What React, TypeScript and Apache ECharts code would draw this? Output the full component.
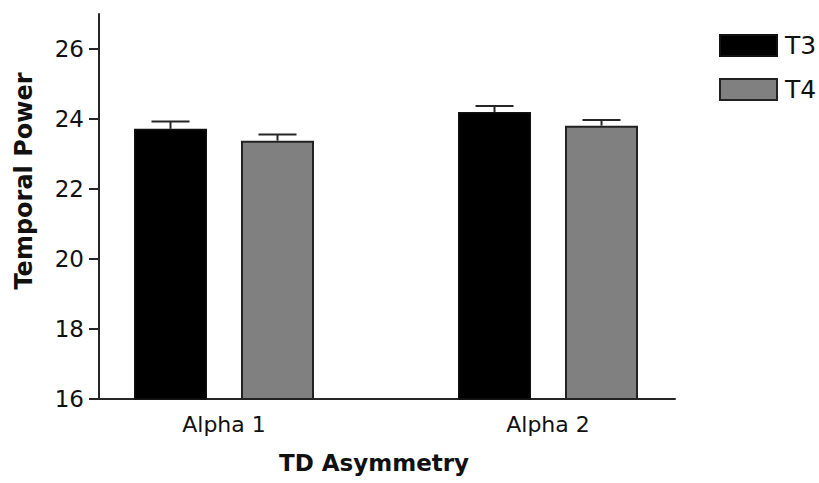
import React, { useEffect, useRef } from "react";
import * as echarts from "echarts";

const categories = ["Alpha 1", "Alpha 2"];
const seriesNames = ["T3", "T4"];
const t3Means = [23.72, 24.2];
const t3Errors = [0.21, 0.17];
const t4Means = [23.38, 23.81];
const t4Errors = [0.18, 0.16];
const yTicks = [16, 18, 20, 22, 24, 26];
const yMin = 16;
const yMax = 27;
const xTitle = "TD Asymmetry";
const yTitle = "Temporal Power";

const FONT = "DejaVu Sans";
const BAR_W = 73;
const BAR_GAP = 34;
const AXIS_COLOR = "#262626";

function errorSeries(name: string, means: number[], errs: number[], offset: number) {
  return {
    type: "custom",
    name: name + " error",
    xAxisIndex: 0,
    yAxisIndex: 0,
    z: 5,
    silent: true,
    data: means.map((m, i) => [i, m, m + errs[i]]),
    encode: { x: 0, y: [1, 2] },
    renderItem: (params: any, api: any) => {
      const idx = api.value(0);
      const lo = api.coord([idx, api.value(1)]);
      const hi = api.coord([idx, api.value(2)]);
      const x = lo[0] + offset;
      const cap = 19;
      const style = { stroke: AXIS_COLOR, lineWidth: 2 };
      return {
        type: "group",
        children: [
          { type: "line", shape: { x1: x, y1: lo[1], x2: x, y2: hi[1] }, style },
          { type: "line", shape: { x1: x - cap, y1: hi[1], x2: x + cap, y2: hi[1] }, style },
        ],
      };
    },
  };
}

export default function App() {
  const ref = useRef<HTMLDivElement>(null);
  useEffect(() => {
    if (!ref.current) return;
    const chart = echarts.init(ref.current, null, { renderer: "svg" });
    const half = (BAR_W + BAR_GAP) / 2;
    chart.setOption({
      animation: false,
      backgroundColor: "#ffffff",
      textStyle: { fontFamily: FONT },
      grid: [
        { left: 62, width: 648, top: 14, height: 385 },
        { left: 99, width: 576, top: 14, height: 385 },
      ],
      legend: {
        orient: "vertical",
        left: 714,
        top: 28,
        itemWidth: 57,
        itemHeight: 21,
        itemGap: 19,
        icon: "rect",
        data: seriesNames,
        textStyle: { fontSize: 25, color: "#111", fontFamily: FONT, padding: [0, 0, 0, 3] },
      },
      xAxis: [
        {
          type: "category",
          gridIndex: 0,
          data: categories,
          axisLine: { show: false },
          axisTick: { show: false },
          axisLabel: { fontSize: 22, color: "#111", margin: 14, fontFamily: FONT },
          splitLine: { show: false },
        },
        {
          type: "value",
          gridIndex: 1,
          min: 0,
          max: 1,
          axisLine: { show: true, onZero: false, lineStyle: { color: AXIS_COLOR, width: 2 } },
          axisTick: { show: false },
          axisLabel: { show: false },
          splitLine: { show: false },
        },
      ],
      yAxis: [
        {
          type: "value",
          gridIndex: 0,
          min: yMin,
          max: yMax,
          show: false,
          splitLine: { show: false },
        },
        {
          type: "value",
          gridIndex: 1,
          min: yMin,
          max: yMax,
          interval: 2,
          axisLine: { show: true, lineStyle: { color: AXIS_COLOR, width: 2 } },
          axisTick: {
            show: true,
            inside: false,
            length: 10,
            customValues: yTicks,
            lineStyle: { color: AXIS_COLOR, width: 2 },
          },
          axisLabel: {
            fontSize: 23,
            color: "#111",
            margin: 15,
            fontFamily: FONT,
            customValues: yTicks,
          },
          splitLine: { show: false },
        },
      ],
      series: [
        {
          type: "bar",
          name: seriesNames[0],
          xAxisIndex: 0,
          yAxisIndex: 0,
          data: t3Means,
          barWidth: BAR_W,
          barGap: (BAR_GAP / BAR_W) * 100 + "%",
          itemStyle: { color: "#000000", borderColor: "#111", borderWidth: 1.5 },
        },
        {
          type: "bar",
          name: seriesNames[1],
          xAxisIndex: 0,
          yAxisIndex: 0,
          data: t4Means,
          barWidth: BAR_W,
          barGap: (BAR_GAP / BAR_W) * 100 + "%",
          itemStyle: { color: "#808080", borderColor: "#222", borderWidth: 2 },
        },
        errorSeries(seriesNames[0], t3Means, t3Errors, -half),
        errorSeries(seriesNames[1], t4Means, t4Errors, half),
      ],
      graphic: [
        {
          type: "text",
          x: 374,
          y: 463,
          style: {
            text: xTitle,
            font: `bold 23px "${FONT}"`,
            fill: "#111",
            align: "center",
            verticalAlign: "middle",
          },
        },
        {
          type: "text",
          x: 24,
          y: 181,
          rotation: Math.PI / 2,
          style: {
            text: yTitle,
            font: `bold 24px "${FONT}"`,
            fill: "#111",
            align: "center",
            verticalAlign: "middle",
          },
        },
      ],
    });
    return () => chart.dispose();
  }, []);
  return (
    <div
      ref={ref}
      style={{ position: "fixed", left: 0, top: 0, width: 819, height: 483, background: "#fff" }}
    />
  );
}
